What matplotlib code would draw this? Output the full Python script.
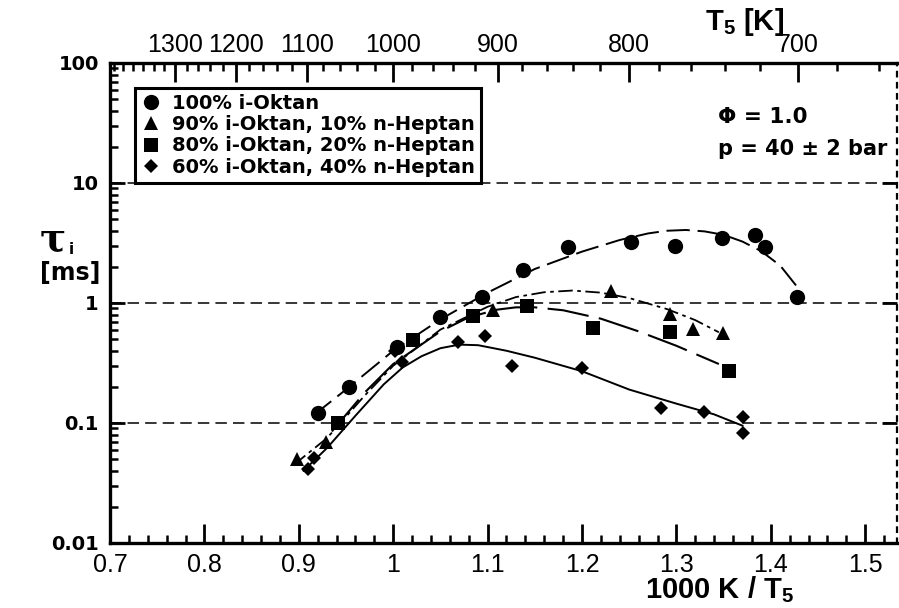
import matplotlib.pyplot as plt
from matplotlib.lines import Line2D
from matplotlib.ticker import FixedLocator, MultipleLocator, LogLocator, NullFormatter

plt.rcParams['mathtext.fontset'] = 'custom'
plt.rcParams['mathtext.rm'] = 'Liberation Sans'
plt.rcParams['mathtext.bf'] = 'Liberation Sans:bold'
plt.rcParams['mathtext.default'] = 'regular'

# Messpunkte (1000 K / T5, tau_i in ms)
x_100 = [0.920, 0.953, 1.004, 1.050, 1.094, 1.137, 1.185, 1.252, 1.299, 1.348, 1.383, 1.394, 1.428]
y_100 = [0.12, 0.20, 0.43, 0.76, 1.12, 1.88, 2.93, 3.22, 2.99, 3.48, 3.69, 2.93, 1.12]

x_90 = [0.898, 0.929, 1.106, 1.231, 1.293, 1.318, 1.349]
y_90 = [0.050, 0.069, 0.87, 1.25, 0.81, 0.61, 0.56]

x_80 = [0.942, 1.021, 1.085, 1.142, 1.212, 1.293, 1.356]
y_80 = [0.10, 0.49, 0.78, 0.94, 0.62, 0.57, 0.27]

x_60 = [0.910, 0.916, 1.002, 1.009, 1.069, 1.097, 1.126, 1.200, 1.284, 1.329, 1.371, 1.371]
y_60 = [0.041, 0.051, 0.40, 0.32, 0.47, 0.53, 0.30, 0.287, 0.133, 0.124, 0.112, 0.083]

# Ausgleichskurven
fx_100 = [0.915, 0.95, 1.0, 1.05, 1.1, 1.15, 1.2, 1.24, 1.27, 1.29, 1.31, 1.33, 1.35, 1.37, 1.39, 1.41, 1.43]
fy_100 = [0.115, 0.19, 0.40, 0.73, 1.22, 1.92, 2.68, 3.35, 3.8, 4.0, 4.06, 3.95, 3.7, 3.25, 2.7, 2.05, 1.3]

fx_90 = [0.895, 0.93, 0.97, 1.0, 1.05, 1.1, 1.13, 1.16, 1.19, 1.22, 1.25, 1.29, 1.32, 1.345]
fy_90 = [0.045, 0.075, 0.17, 0.30, 0.60, 0.93, 1.12, 1.23, 1.27, 1.22, 1.10, 0.89, 0.72, 0.57]

fx_80 = [0.935, 0.97, 1.0, 1.05, 1.08, 1.11, 1.13, 1.15, 1.18, 1.22, 1.26, 1.30, 1.345]
fy_80 = [0.085, 0.18, 0.31, 0.58, 0.76, 0.88, 0.92, 0.92, 0.87, 0.74, 0.58, 0.44, 0.31]

fx_60 = [0.905, 0.93, 0.96, 0.99, 1.01, 1.03, 1.05, 1.07, 1.09, 1.12, 1.15, 1.2, 1.25, 1.3, 1.34, 1.37]
fy_60 = [0.040, 0.062, 0.115, 0.21, 0.29, 0.36, 0.42, 0.45, 0.445, 0.40, 0.35, 0.27, 0.19, 0.145, 0.118, 0.095]

labels = ['100% i-Oktan', '90% i-Oktan, 10% n-Heptan',
          '80% i-Oktan, 20% n-Heptan', '60% i-Oktan, 40% n-Heptan']

x_ticks = [0.7, 0.8, 0.9, 1.0, 1.1, 1.2, 1.3, 1.4, 1.5]
x_ticklabels = ['0.7', '0.8', '0.9', '1', '1.1', '1.2', '1.3', '1.4', '1.5']
y_ticks = [0.01, 0.1, 1, 10, 100]
y_ticklabels = ['0.01', '0.1', '1', '10', '100']
T_ticks = [1300, 1200, 1100, 1000, 900, 800, 700]

W, H = 899, 608
fig = plt.figure(figsize=(W / 100, H / 100), dpi=100)
ax = fig.add_axes([110 / W, 1 - 543 / H, (897 - 110) / W, (543 - 63) / H])
ax.set_yscale('log')
ax.set_xlim(0.7, 1.5337)
ax.set_ylim(0.01, 100)

# gestrichelte Hilfslinien
for yv in [0.1, 1, 10]:
    ax.axhline(yv, color='k', lw=1.1, ls=(0, (7.5, 4)), zorder=0)

# Kurven
ax.plot(fx_100, fy_100, color='k', lw=1.4, ls=(0, (12, 4)))
ax.plot(fx_90, fy_90, color='k', lw=1.3, ls=(0, (8, 2.5, 2, 2.5)))
ax.plot(fx_80, fy_80, color='k', lw=1.5, ls=(0, (20, 5)))
ax.plot(fx_60, fy_60, color='k', lw=1.4, ls='-')

# Punkte
ax.plot(x_100, y_100, 'o', color='k', ms=11, mew=0)
ax.plot(x_90, y_90, '^', color='k', ms=10.5, mew=0)
ax.plot(x_80, y_80, 's', color='k', ms=10.5, mew=0)
ax.plot(x_60, y_60, 'D', color='k', ms=7.2, mew=0)

# Achsen unten / links
ax.set_xticks(x_ticks)
ax.set_xticklabels(x_ticklabels, family='Liberation Sans', fontsize=18)
ax.xaxis.set_minor_locator(MultipleLocator(0.02))
ax.set_yticks(y_ticks)
ax.set_yticklabels(y_ticklabels, family='DejaVu Sans', fontweight='bold', fontsize=14)
ax.yaxis.set_minor_locator(LogLocator(base=10, subs=range(2, 10)))
ax.yaxis.set_minor_formatter(NullFormatter())

ax.tick_params(axis='x', which='major', direction='in', length=14, width=2, pad=7, top=False)
ax.tick_params(axis='x', which='minor', direction='in', length=6, width=1.8, top=False)
ax.tick_params(axis='y', which='major', direction='in', length=11, width=2, pad=8, right=True)
ax.tick_params(axis='y', which='minor', direction='in', length=6, width=1.8, right=False)

for s in ['left', 'bottom', 'top']:
    ax.spines[s].set_linewidth(2.4)
ax.spines['right'].set_linewidth(1.6)
ax.spines['right'].set_linestyle((0, (2, 3)))

# obere Achse: T5 in K
ax2 = ax.twiny()
ax2.set_xlim(ax.get_xlim())
ax2.set_xticks([1000 / t for t in T_ticks])
ax2.set_xticklabels([str(t) for t in T_ticks], family='Liberation Sans', fontsize=18)
ax2.xaxis.set_minor_locator(FixedLocator([1000 / t for t in range(660, 1440, 20)]))
ax2.tick_params(axis='x', which='major', direction='in', length=14, width=2, pad=4)
ax2.tick_params(axis='x', which='minor', direction='in', length=6, width=1.8)
for s in ax2.spines.values():
    s.set_visible(False)

# Achsentitel
fig.text(720 / W, 1 - 590 / H, '1000 K / T$_5$', ha='center', va='center',
         family='Liberation Sans', fontweight='bold', fontsize=21)
fig.text(745 / W, 1 - 22 / H, 'T$_5$ [K]', ha='center', va='center',
         family='Liberation Sans', fontweight='bold', fontsize=21)
fig.text(53 / W, 1 - 240 / H, 'τ', ha='center', va='center',
         family='DejaVu Serif', fontweight='bold', fontsize=28)
fig.text(69 / W, 1 - 249 / H, 'i', ha='left', va='center',
         family='DejaVu Sans', fontweight='bold', fontsize=11)
fig.text(70 / W, 1 - 273 / H, '[ms]', ha='center', va='center',
         family='DejaVu Sans', fontweight='bold', fontsize=17)

# Bedingungen
fig.text(718 / W, 1 - 117 / H, 'Φ = 1.0', ha='left', va='center',
         family='DejaVu Sans', fontweight='bold', fontsize=15.5)
fig.text(718 / W, 1 - 149 / H, 'p = 40 ± 2 bar', ha='left', va='center',
         family='DejaVu Sans', fontweight='bold', fontsize=15)

# Legende
handles = [Line2D([], [], ls='none', marker='o', color='k', ms=11, mew=0),
           Line2D([], [], ls='none', marker='^', color='k', ms=10.5, mew=0),
           Line2D([], [], ls='none', marker='s', color='k', ms=10.5, mew=0),
           Line2D([], [], ls='none', marker='D', color='k', ms=7.2, mew=0)]
leg = ax.legend(handles, labels, loc='upper left', bbox_to_anchor=(0.032, 0.948),
                borderaxespad=0, frameon=True, fancybox=False, framealpha=1,
                edgecolor='k', handlelength=1.0, handletextpad=0.6,
                labelspacing=0.12, borderpad=0.3,
                prop={'family': 'DejaVu Sans', 'weight': 'bold', 'size': 14})
leg.get_frame().set_linewidth(2.2)

fig.savefig('out.png', dpi=100)
